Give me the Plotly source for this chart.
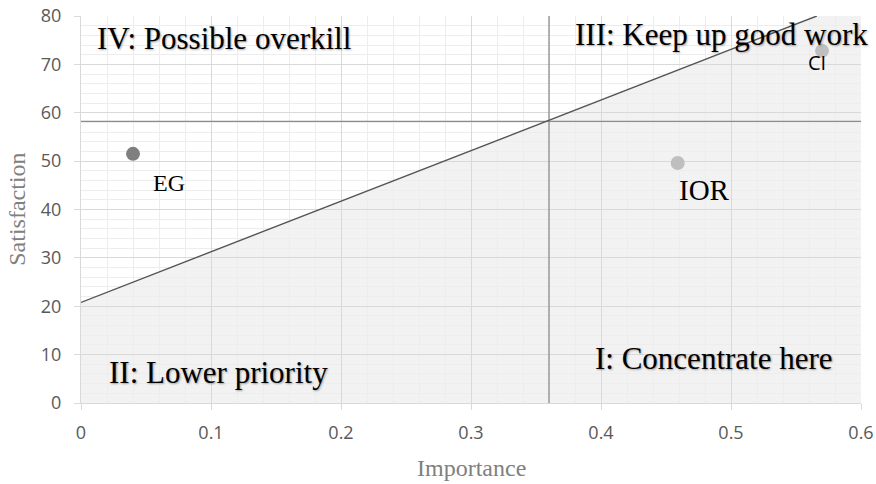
import plotly.graph_objects as go

# ---- data ----
names = ["EG", "IOR", "CI"]
importance = [0.04, 0.459, 0.570]
satisfaction = [51.5, 49.6, 72.8]
marker_colors = ["#7f7f7f", "#bfbfbf", "#bfbfbf"]

importance_threshold = 0.36
satisfaction_threshold = 58.2
diag_x = [0.0, 0.566]
diag_y = [20.8, 80.0]

x_range = [0, 0.6]
y_range = [0, 80]
x_ticks = [0, 0.1, 0.2, 0.3, 0.4, 0.5, 0.6]
x_tick_labels = ["0", "0.1", "0.2", "0.3", "0.4", "0.5", "0.6"]
y_ticks = [0, 10, 20, 30, 40, 50, 60, 70, 80]
y_tick_labels = ["0", "10", "20", "30", "40", "50", "60", "70", "80"]

quadrant_labels = ["IV: Possible overkill", "III: Keep up good work",
                   "II: Lower priority", "I: Concentrate here"]

SERIF = "Liberation Serif, Times New Roman, serif"
SANS = "Open Sans, Noto Sans, sans-serif"

fig = go.Figure()

# quadrant lines
fig.add_trace(go.Scatter(x=[importance_threshold, importance_threshold], y=y_range,
                         mode="lines", line=dict(color="#8c8c8c", width=1.3),
                         hoverinfo="skip", showlegend=False))
fig.add_trace(go.Scatter(x=x_range, y=[satisfaction_threshold, satisfaction_threshold],
                         mode="lines", line=dict(color="#8c8c8c", width=1.3),
                         hoverinfo="skip", showlegend=False))
fig.add_trace(go.Scatter(x=diag_x, y=diag_y, mode="lines",
                         line=dict(color="#555555", width=1.4),
                         hoverinfo="skip", showlegend=False))

# points
fig.add_trace(go.Scatter(x=importance, y=satisfaction, mode="markers",
                         marker=dict(size=14, color=marker_colors),
                         text=names, showlegend=False))

# shaded region below the diagonal
path = (f"M {x_range[0]},{y_range[0]} L {diag_x[0]},{diag_y[0]} "
        f"L {diag_x[1]},{diag_y[1]} L {x_range[1]},{y_range[1]} "
        f"L {x_range[1]},{y_range[0]} Z")
fig.add_shape(type="path", path=path, xref="x", yref="y", layer="below",
              fillcolor="#f2f2f2", line=dict(width=0))

# quadrant labels
qpos = [(0.0108, 75.3), (0.3785, 76.2), (0.02, 6.3), (0.394, 9.2)]
for lab, (qx, qy) in zip(quadrant_labels, qpos):
    fig.add_annotation(x=qx, y=qy, text=lab, showarrow=False, xanchor="left",
                       yanchor="middle",
                       font=dict(family=SERIF, size=31, color="#000000",
                                 shadow="1px 1px 2px rgba(0,0,0,0.35)"))

# point labels
label_shift = [(36, -29), (27, -26.5), (-5, -11.5)]
label_font = [dict(family=SERIF, size=24, color="#000"),
              dict(family=SERIF, size=29, color="#000"),
              dict(family=SANS, size=20, color="#000")]
for n, x, y, (dx, dy), f in zip(names, importance, satisfaction, label_shift, label_font):
    fig.add_annotation(x=x, y=y, text=n, showarrow=False, xshift=dx, yshift=dy,
                       xanchor="center", yanchor="middle", font=f)

# axis titles
fig.add_annotation(x=0.5, y=-0.168, xref="paper", yref="paper", text="Importance",
                   showarrow=False, xanchor="center", yanchor="middle",
                   font=dict(family=SERIF, size=24, color="#808080"))
fig.add_annotation(x=-0.083, y=0.5, xref="paper", yref="paper", text="Satisfaction",
                   showarrow=False, xanchor="center", yanchor="middle", textangle=-90,
                   font=dict(family=SERIF, size=24, color="#808080"))

fig.update_xaxes(range=x_range, tickvals=x_ticks, ticktext=x_tick_labels,
                 showgrid=True, gridcolor="#d9d9d9", gridwidth=1,
                 minor=dict(dtick=0.02, showgrid=True, gridcolor="#ededed", gridwidth=1),
                 ticks="outside", ticklen=6, tickcolor="#d9d9d9",
                 tickfont=dict(family=SANS, size=18, color="#595959"),
                 ticklabelstandoff=7, automargin=False, ticklabeloverflow="allow",
                 zeroline=False, showline=True, linecolor="#d9d9d9", linewidth=1,
                 fixedrange=True)
fig.update_yaxes(range=y_range, tickvals=y_ticks, ticktext=y_tick_labels,
                 showgrid=True, gridcolor="#d9d9d9", gridwidth=1,
                 minor=dict(dtick=2, showgrid=True, gridcolor="#ededed", gridwidth=1),
                 ticks="outside", ticklen=6, tickcolor="#d9d9d9",
                 tickfont=dict(family=SANS, size=18, color="#595959"),
                 ticklabelstandoff=9, automargin=False, ticklabeloverflow="allow",
                 zeroline=False, showline=True, linecolor="#d9d9d9", linewidth=1,
                 fixedrange=True)

fig.update_layout(width=876, height=484,
                  margin=dict(l=81, r=15, t=16, b=81, autoexpand=False),
                  paper_bgcolor="white", plot_bgcolor="white",
                  showlegend=False)

# remove the default 8px page margin so the figure fills the window exactly
fig.write_html("out.html", config={"displayModeBar": False},
               post_script="document.body.style.margin='0';")
